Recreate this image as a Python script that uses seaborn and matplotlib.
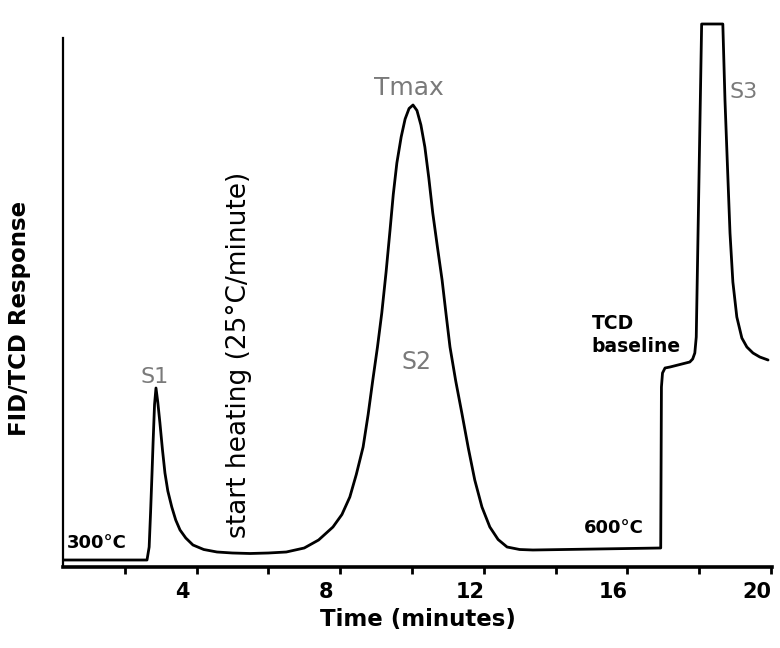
import numpy as np
import pandas as pd
import matplotlib.pyplot as plt
import matplotlib.transforms as mtransforms
import seaborn as sns

# pyrolysis trace (time in minutes, response in arbitrary units)
time_min = [0.28, 2.62, 2.68, 2.72, 2.76, 2.79, 2.83, 2.87, 2.92, 2.98, 3.05, 3.12,
            3.20, 3.31, 3.42, 3.54, 3.70, 3.90, 4.20, 4.57, 5.00, 5.49, 6.00, 6.50,
            7.00, 7.40, 7.80, 8.05, 8.27, 8.45, 8.64, 8.78, 8.91, 9.04, 9.16, 9.28,
            9.39, 9.48, 9.58, 9.70, 9.81, 9.92, 10.03, 10.14, 10.25, 10.36, 10.47,
            10.58, 10.71, 10.84, 10.95, 11.06, 11.22, 11.39, 11.57, 11.75, 11.95,
            12.17, 12.40, 12.65, 13.00, 13.37, 16.93, 16.95, 16.98, 17.05, 17.19,
            17.74, 17.82, 17.88, 17.92, 18.07, 18.66, 18.72, 18.79, 18.86, 18.94,
            19.05, 19.19, 19.33, 19.50, 19.69, 19.92]
response = [1.4, 1.4, 4.0, 11.0, 18.8, 25.0, 32.5, 35.8, 33.0, 28.8, 23.5, 18.8,
            15.2, 12.0, 9.4, 7.4, 5.8, 4.4, 3.5, 3.0, 2.8, 2.7, 2.8, 3.0,
            3.8, 5.4, 8.0, 10.5, 14.0, 18.5, 24.0, 30.5, 37.4, 44.0, 50.8, 59.0,
            67.4, 74.5, 80.8, 86.0, 89.6, 91.7, 92.4, 91.3, 88.4, 84.0, 77.8,
            70.8, 64.0, 57.4, 50.6, 44.0, 37.2, 30.8, 23.8, 17.4, 12.0,
            8.0, 5.5, 4.0, 3.5, 3.4, 3.8, 36.0, 38.8, 39.8, 40.0,
            41.0, 41.6, 42.8, 46.0, 108.6, 108.6, 93.4, 80.0, 66.8, 57.0,
            50.0, 45.8, 44.0, 42.8, 42.0, 41.4]

major_ticks = [4, 8, 12, 16, 20]
minor_ticks = [2, 6, 10, 14, 18]

df = pd.DataFrame({"time": time_min, "resp": response})

sns.set_style("white")
plt.rcParams['font.family'] = ['DejaVu Sans']
plt.rcParams['text.color'] = 'black'

fig = plt.figure(figsize=(7.8, 6.48), dpi=100)
ax = fig.add_axes([63 / 780, 81 / 648, (772 - 63) / 780, (567 - 15) / 648])

sns.lineplot(data=df, x="time", y="resp", sort=False, estimator=None,
             color="black", linewidth=2.0, ax=ax)

ax.set_xlim(0.28, 20.03)
ax.set_ylim(0, 110.4)
ax.set_xticks(major_ticks)
ax.set_xticks(minor_ticks, minor=True)
ax.set_xticklabels([str(t) for t in major_ticks], fontsize=15, fontweight="bold",
                   color="black")
ax.set_yticks([])
ax.tick_params(axis="x", which="both", direction="out", length=5, width=2,
               color="black", pad=6, bottom=True)

for s in ["top", "right"]:
    ax.spines[s].set_visible(False)
ax.spines["bottom"].set_linewidth(2.6)
ax.spines["left"].set_linewidth(1.6)
ax.spines["bottom"].set_color("black")
ax.spines["left"].set_color("black")
ax.spines["left"].set_bounds(0, 105.8)

# labels sit a little to the left of their ticks
shift = mtransforms.ScaledTranslation(-0.14, 0, fig.dpi_scale_trans)
for lab in ax.get_xticklabels():
    lab.set_transform(lab.get_transform() + shift)

ax.set_xlabel("Time (minutes)", fontsize=16.5, fontweight="bold", labelpad=4,
              color="black")
ax.set_ylabel("")
fig.text(20 / 780, 1 - 318 / 648, "FID/TCD Response", rotation=90, fontsize=16.5,
         fontweight="bold", ha="center", va="center", color="black")

gray = "#7a7a7a"
ax.text(0.38, 4.8, "300°C", fontsize=13, fontweight="bold", ha="left", va="center")
ax.text(2.84, 36.0, "S1", fontsize=16, color=gray, ha="center", va="bottom")
ax.text(5.18, 42.4, "start heating (25°C/minute)", fontsize=19, rotation=90,
        ha="center", va="center")
ax.text(9.92, 95.8, "Tmax", fontsize=18, color=gray, ha="center", va="center")
ax.text(10.14, 41.0, "S2", fontsize=17, color=gray, ha="center", va="center")
ax.text(15.63, 7.8, "600°C", fontsize=13, fontweight="bold", ha="center", va="center")
ax.text(15.0, 46.4, "TCD\nbaseline", fontsize=13.5, fontweight="bold", ha="left",
        va="center", linespacing=1.25)
ax.text(19.25, 95.0, "S3", fontsize=16, color=gray, ha="center", va="center")

plt.savefig("out.png", dpi=100)
